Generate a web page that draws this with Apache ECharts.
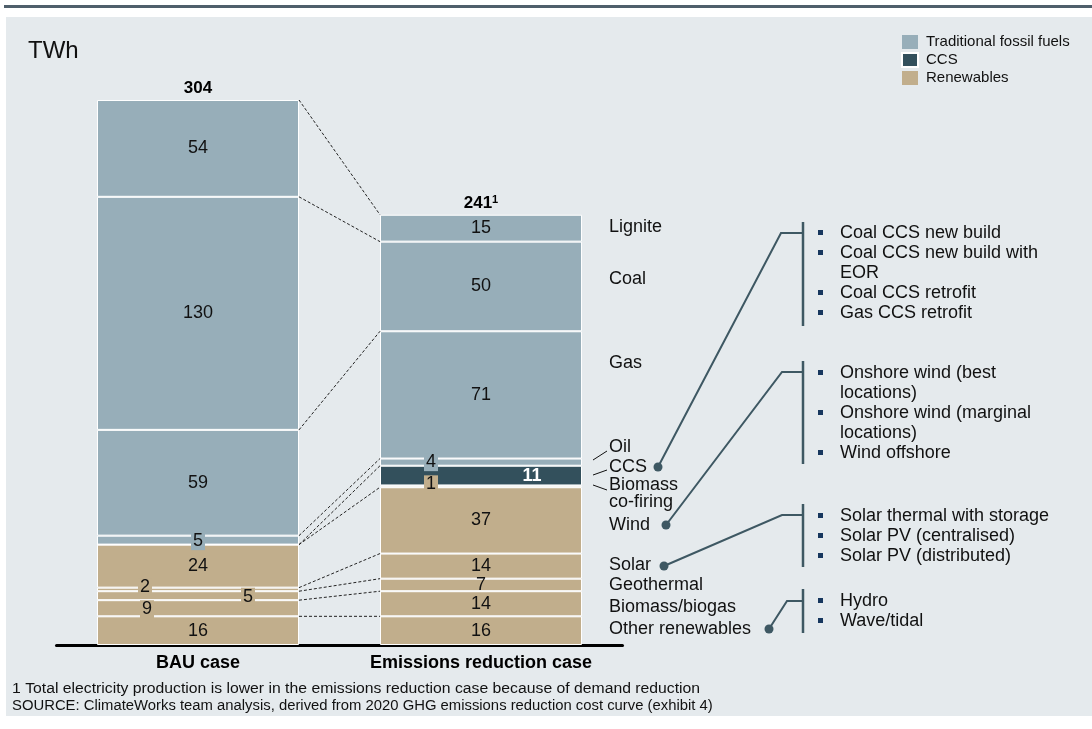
<!DOCTYPE html>
<html>
<head>
<meta charset="utf-8">
<script src="https://cdn.jsdelivr.net/npm/echarts@6/dist/echarts.min.js"></script>
<style>
html,body{margin:0;padding:0;background:#fff;}
#c{width:1092px;height:729px;}
</style>
</head>
<body>
<div id="c"></div>
<script>
// ---------------- data ----------------
const CATEGORIES = ['BAU case', 'Emissions reduction case'];
const SEGMENTS = ['Other renewables', 'Biomass/biogas', 'Geothermal', 'Solar', 'Wind',
  'Biomass co-firing', 'CCS', 'Oil', 'Gas', 'Coal', 'Lignite'];
const GROUPS = ['Renewables', 'Renewables', 'Renewables', 'Renewables', 'Renewables',
  'Renewables', 'CCS', 'Traditional fossil fuels', 'Traditional fossil fuels',
  'Traditional fossil fuels', 'Traditional fossil fuels'];
const BAU = [16, 9, 5, 2, 24, 0, 0, 5, 59, 130, 54];
const ER  = [16, 14, 7, 14, 37, 1, 11, 4, 71, 50, 15];
const TOTALS = ['304', '241'];
const TOTAL_NOTES = ['', '1'];
const CONNECTED = ['Other renewables', 'Biomass/biogas', 'Geothermal', 'Solar', 'Wind',
  'CCS', 'Oil', 'Gas', 'Coal', 'Lignite'];
const LEGEND_ITEMS = ['Traditional fossil fuels', 'CCS', 'Renewables'];
const RIGHT_LABELS = ['Lignite', 'Coal', 'Gas', 'Oil', 'CCS', 'Biomass\nco-firing', 'Wind',
  'Solar', 'Geothermal', 'Biomass/biogas', 'Other renewables'];
const CCS_TECH = ['Coal CCS new build', 'Coal CCS new build with\nEOR', 'Coal CCS retrofit', 'Gas CCS retrofit'];
const WIND_TECH = ['Onshore wind (best\nlocations)', 'Onshore wind (marginal\nlocations)', 'Wind offshore'];
const SOLAR_TECH = ['Solar thermal with storage', 'Solar PV (centralised)', 'Solar PV (distributed)'];
const OTHER_TECH = ['Hydro', 'Wave/tidal'];
const UNIT = 'TWh';
const FOOTNOTES = ['1 Total electricity production is lower in the emissions reduction case because of demand reduction',
  'SOURCE: ClimateWorks team analysis, derived from 2020 GHG emissions reduction cost curve (exhibit 4)'];

// ---------------- styles ----------------
const FONT = '"Liberation Sans", Arial, sans-serif';
const COLORS = {'Traditional fossil fuels': '#97aeb9', 'CCS': '#33505c', 'Renewables': '#c1ae8c'};
const BAR_W = 202;
const LINE_C = '#3e5863';
const FOOT_SCALE = [1.125, 1.06];

const LABEL_TWEAKS = {
  'Solar': {0: {offset: [-53, -2], bg: true}},
  'Geothermal': {0: {offset: [50, 1], bg: true}},
  'Biomass/biogas': {0: {offset: [-51, 1], bg: true}},
  'Oil': {0: {offset: [0, 1], bg: true}, 1: {offset: [-50, 0], bg: true}},
  'Biomass co-firing': {1: {offset: [-50, -2], bg: true}},
  'CCS': {1: {offset: [51, 0], color: '#fff', bold: true}}
};

// cumulative tops
function cum(arr) { let s = 0; return arr.map(v => (s += v)); }
const cumBAU = cum(BAU), cumER = cum(ER);
const yMax = Math.max(cumBAU[cumBAU.length - 1], cumER[cumER.length - 1]);

const series = SEGMENTS.map((name, i) => {
  const color = COLORS[GROUPS[i]];
  const vals = [BAU[i], ER[i]];
  return {
    name: name, type: 'bar', stack: 'a', barWidth: BAR_W,
    itemStyle: {color: color, borderColor: '#fff', borderWidth: 1},
    label: {show: true, position: 'inside', fontSize: 18, fontFamily: FONT, color: '#111',
      formatter: p => (p.value ? String(p.value) : '')},
    data: vals.map((v, j) => {
      const t = (LABEL_TWEAKS[name] || {})[j];
      if (!t) return v;
      const lab = {offset: t.offset};
      if (t.bg) { lab.backgroundColor = color; lab.padding = [0, 2]; }
      if (t.color) lab.color = t.color;
      if (t.bold) lab.fontWeight = 'bold';
      return {value: v, label: lab};
    })
  };
});

// legend-only series
['Traditional fossil fuels', 'Renewables'].forEach(n => {
  series.push({name: n, type: 'bar', stack: 'a', barWidth: BAR_W, itemStyle: {color: COLORS[n]}, data: []});
});

// totals on top
series.push({
  name: 'total', type: 'bar', stack: 'a', barWidth: BAR_W,
  itemStyle: {color: 'transparent', borderWidth: 0},
  label: {show: true, position: 'top', distance: 3,
    formatter: p => '{b|' + TOTALS[p.dataIndex] + '}' + (TOTAL_NOTES[p.dataIndex] ? '{s|' + TOTAL_NOTES[p.dataIndex] + '}' : ''),
    rich: {b: {fontSize: 17, fontWeight: 'bold', fontFamily: FONT, color: '#000'},
           s: {fontSize: 11, fontWeight: 'bold', fontFamily: FONT, color: '#000', verticalAlign: 'top', lineHeight: 11}}},
  data: [0, 0]
});

// dashed connectors between bars
series.push({
  name: 'connectors', type: 'custom', silent: true, z: 5,
  encode: {x: 0, y: [1, 2]},
  data: CONNECTED.map(n => { const i = SEGMENTS.indexOf(n); return [0, cumBAU[i], cumER[i]]; }),
  renderItem: (params, api) => {
    const p1 = api.coord([0, api.value(1)]);
    const p2 = api.coord([1, api.value(2)]);
    return {type: 'line', shape: {x1: p1[0] + BAR_W / 2, y1: p1[1], x2: p2[0] - BAR_W / 2, y2: p2[1]},
      style: {stroke: '#222', lineWidth: 1, lineDash: [3, 2]}};
  }
});

// ---------------- graphic annotations ----------------
const graphic = [];
graphic.push({type: 'rect', z: -10, shape: {x: 6, y: 17, width: 1086, height: 699}, style: {fill: '#e5eaed'}});
graphic.push({type: 'rect', z: -10, shape: {x: 4, y: 5, width: 1088, height: 3}, style: {fill: '#4f5f6b'}});
graphic.push({type: 'text', x: 28, y: 51, style: {text: UNIT, font: '24px ' + FONT, fill: '#111', verticalAlign: 'middle'}});

const RIGHT_Y = [227, 279, 363, 447, 467, 494, 525, 565, 585, 607, 629];
RIGHT_LABELS.forEach((t, i) => {
  graphic.push({type: 'text', x: 609, y: RIGHT_Y[i],
    style: {text: t, font: '18px ' + FONT, fill: '#111', verticalAlign: 'middle', lineHeight: 17}});
});
// short ticks to Oil / CCS / Biomass co-firing
[[593, 460, 607, 451], [593, 475, 607, 470], [593, 485, 607, 490]].forEach(s => {
  graphic.push({type: 'line', shape: {x1: s[0], y1: s[1], x2: s[2], y2: s[3]}, style: {stroke: '#111', lineWidth: 1}});
});

function techGroup(items, firstY, bracket, tickY, tickX, dot) {
  let y = firstY;
  items.forEach(t => {
    const lines = t.split('\n');
    graphic.push({type: 'rect', shape: {x: 818, y: y - 3, width: 5, height: 5}, style: {fill: '#17375e'}});
    lines.forEach(l => {
      graphic.push({type: 'text', x: 840, y: y, style: {text: l, font: '18px ' + FONT, fill: '#111', verticalAlign: 'middle'}});
      y += 20;
    });
  });
  graphic.push({type: 'line', shape: {x1: 803, y1: bracket[0], x2: 803, y2: bracket[1]}, style: {stroke: LINE_C, lineWidth: 2.5}});
  graphic.push({type: 'polyline', shape: {points: [[dot[0], dot[1]], [tickX, tickY], [803, tickY]]}, style: {stroke: LINE_C, lineWidth: 2, fill: null}});
  graphic.push({type: 'circle', shape: {cx: dot[0], cy: dot[1], r: 4.5}, style: {fill: LINE_C}});
}
techGroup(CCS_TECH, 233, [222, 326], 233, 781, [658, 467]);
techGroup(WIND_TECH, 373, [361, 464], 372, 782, [666, 525]);
techGroup(SOLAR_TECH, 516, [504, 567], 515, 782, [664, 566]);
techGroup(OTHER_TECH, 601, [589, 633], 601, 787, [769, 629]);

FOOTNOTES.forEach((t, i) => {
  graphic.push({type: 'text', x: 12, y: 689 + i * 17, scaleX: FOOT_SCALE[i],
    style: {text: t, font: '14px ' + FONT, fill: '#111', verticalAlign: 'middle'}});
});

const chart = echarts.init(document.getElementById('c'), null, {renderer: 'canvas'});
chart.setOption({
  animation: false,
  backgroundColor: '#fff',
  textStyle: {fontFamily: FONT},
  grid: {left: 56.5, right: 469.5, top: 100, bottom: 84, containLabel: false},
  legend: {
    data: LEGEND_ITEMS, orient: 'vertical', left: 901, top: 34.5, padding: 0,
    itemWidth: 16, itemHeight: 14, itemGap: 2.5, icon: 'rect',
    textStyle: {fontSize: 15, lineHeight: 15, fontFamily: FONT, color: '#111', padding: [0, 0, 0, 3]},
    selectedMode: false
  },
  xAxis: {
    type: 'category', data: CATEGORIES,
    axisLine: {lineStyle: {color: '#000', width: 3}},
    axisTick: {show: false},
    axisLabel: {interval: 0, fontWeight: 'bold', fontSize: 18, fontFamily: FONT, color: '#000', margin: 9}
  },
  yAxis: {type: 'value', min: 0, max: yMax, show: false},
  series: series,
  graphic: graphic
});
</script>
</body>
</html>
